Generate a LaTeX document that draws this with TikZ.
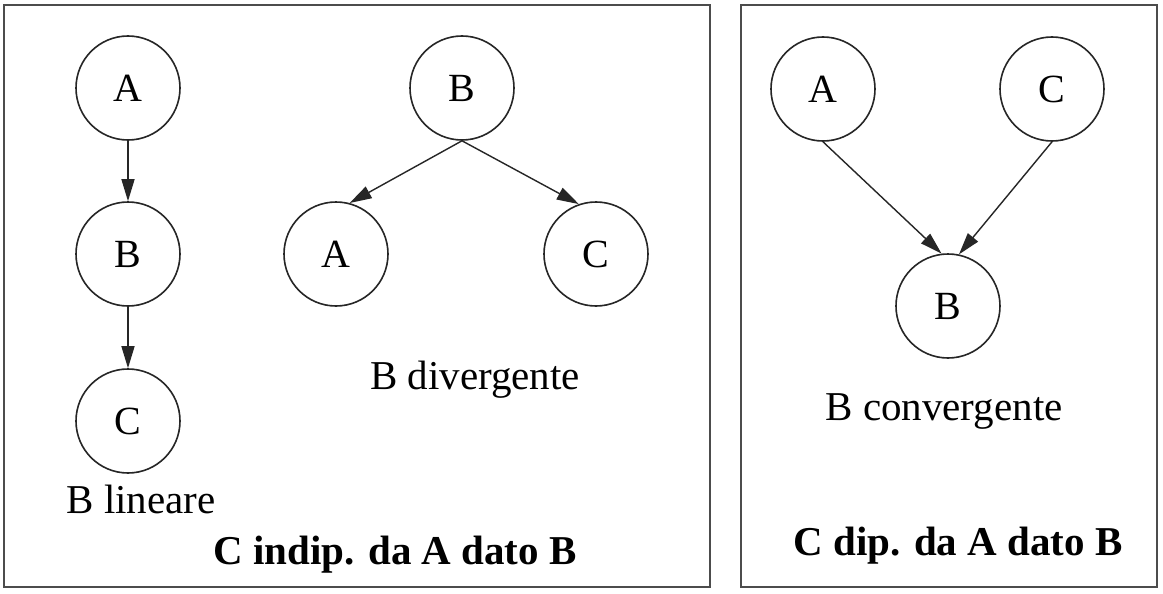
\documentclass[tikz,border=0pt]{standalone}
\usepackage{fontspec}
\setmainfont{Liberation Serif}
\usetikzlibrary{arrows.meta}
\begin{document}
\begin{tikzpicture}[x=1pt,y=-1pt,
  var/.style={circle,draw=black!85,line width=1.6pt,minimum size=104pt,inner sep=0pt,font=\fontsize{40}{44}\selectfont},
  edge/.style={draw=black!85,line width=1.4pt,-{Triangle[length=22pt,width=13pt]}},
  frame/.style={draw=black!70,line width=2.2pt},
  lbl/.style={font=\fontsize{41}{46}\selectfont,inner sep=0pt},
  title/.style={font=\fontsize{41}{46}\selectfont\bfseries,inner sep=0pt}]
\useasboundingbox (0,0) rectangle (1163,594);
\fill[white] (0,0) rectangle (1163,594);
\draw[frame] (4,5) rectangle (710,587);
\draw[frame] (741,5) rectangle (1157,587);
% linear
\node[var] (lA) at (128,88) {A};
\node[var] (lB) at (128,254) {B};
\node[var] (lC) at (128,421) {C};
\draw[edge] (lA.south) -- (lB.north);
\draw[edge] (lB.south) -- (lC.north);
\node[lbl] (llin) at (141,499) {B lineare};
% divergent
\node[var] (dB) at (462,88) {B};
\node[var] (dA) at (336,254) {A};
\node[var] (dC) at (596,254) {C};
\draw[edge] (dB.south) -- (dA.75);
\draw[edge] (dB.south) -- (dC.109);
\node[lbl] (ldiv) at (475,380) {B divergente};
\node[title] (tind) at (395,555) {C indip. da A dato B};
% convergent
\node[var] (cA) at (823,89) {A};
\node[var] (cC) at (1052,89) {C};
\node[var] (cB) at (948,306) {B};
\draw[edge] (cA.south) -- (cB.97);
\draw[edge] (cC.south) -- (cB.78);
\node[lbl] (lconv) at (944,411) {B convergente};
\node[title] (tdip) at (958,546) {C dip. da A dato B};
\end{tikzpicture}
\end{document}
